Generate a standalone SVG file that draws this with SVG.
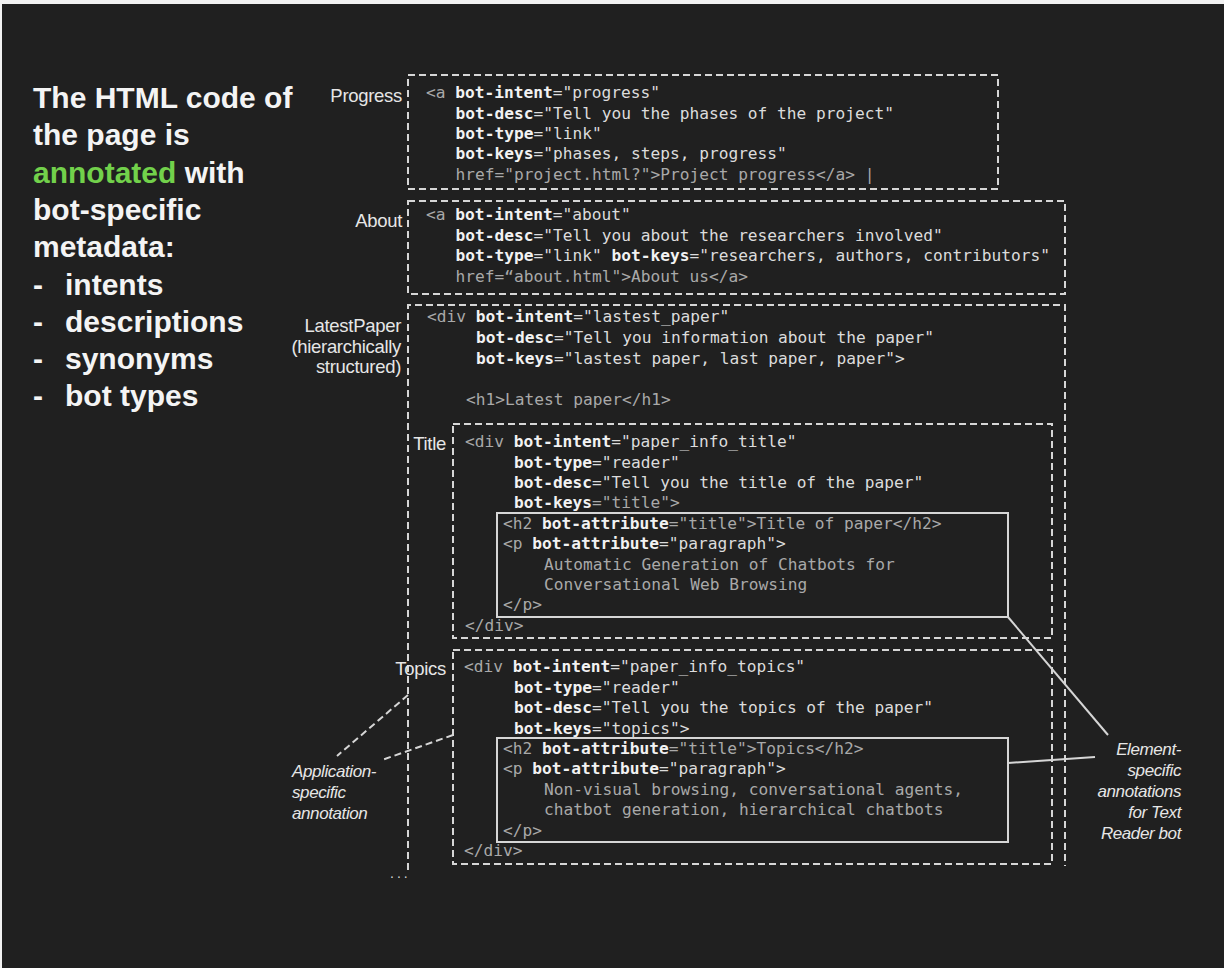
<svg xmlns="http://www.w3.org/2000/svg" width="1224" height="968" viewBox="0 0 1224 968">
<style>
.code{font-family:"DejaVu Sans Mono","Liberation Mono",monospace;font-size:16.2px;fill:#dcdcdc;white-space:pre}
.b{font-weight:bold;fill:#f2f2f2}
.g{fill:#a9a9a9}
.lbl{font-family:"Liberation Sans",Arial,sans-serif;font-size:18.5px;fill:#e6e6e6;letter-spacing:-0.3px;text-anchor:end}
.it{font-family:"Liberation Sans",Arial,sans-serif;font-size:17px;font-style:italic;fill:#e6e6e6;letter-spacing:-0.4px}
.head{font-family:"Liberation Sans",Arial,sans-serif;font-size:30px;font-weight:bold;fill:#f4f4f4;white-space:pre}
.dash{fill:none;stroke:#d6d6d6;stroke-width:2;stroke-dasharray:7 4}
.solid{fill:none;stroke:#d6d6d6;stroke-width:2}
</style>
<rect x="0" y="0" width="1224" height="968" fill="#f2f2f2"/>
<rect x="2" y="4" width="1222" height="964" fill="#202020"/>

<g id="intro">
<text class="head" x="33" y="108">The HTML code of</text>
<text class="head" x="33" y="145">the page is</text>
<text class="head" x="33" y="183"><tspan fill="#72d14b">annotated</tspan> with</text>
<text class="head" x="33" y="220">bot-specific</text>
<text class="head" x="33" y="257">metadata:</text>
<text class="head" x="33" y="295">-<tspan x="65">intents</tspan></text>
<text class="head" x="33" y="332">-<tspan x="65">descriptions</tspan></text>
<text class="head" x="33" y="369">-<tspan x="65">synonyms</tspan></text>
<text class="head" x="33" y="406">-<tspan x="65">bot types</tspan></text>
</g>

<g id="progress">
<rect class="dash" x="408" y="75" width="590" height="114"/>
<text class="lbl" x="402" y="102">Progress</text>
<text class="code" x="426" y="98"><tspan class="g">&lt;a </tspan><tspan class="b">bot-intent</tspan>="progress"</text>
<text class="code" x="455.5" y="118.5"><tspan class="b">bot-desc</tspan>="Tell you the phases of the project"</text>
<text class="code" x="455.5" y="139"><tspan class="b">bot-type</tspan>="link"</text>
<text class="code" x="455.5" y="159"><tspan class="b">bot-keys</tspan>="phases, steps, progress"</text>
<text class="code g" x="455.5" y="179.5">href="project.html?"&gt;Project progress&lt;/a&gt; |</text>
</g>

<g id="about">
<rect class="dash" x="408" y="201" width="657" height="93"/>
<text class="lbl" x="402" y="227">About</text>
<text class="code" x="426" y="220"><tspan class="g">&lt;a </tspan><tspan class="b">bot-intent</tspan>="about"</text>
<text class="code" x="455.5" y="240.5"><tspan class="b">bot-desc</tspan>="Tell you about the researchers involved"</text>
<text class="code" x="455.5" y="261"><tspan class="b">bot-type</tspan>="link" <tspan class="b">bot-keys</tspan>="researchers, authors, contributors"</text>
<text class="code g" x="455.5" y="281.5">href=“about.html"&gt;About us&lt;/a&gt;</text>
</g>

<g id="latestpaper">
<path class="dash" d="M408 870 V305 H1065 V866"/>
<text class="lbl" x="401" y="332">LatestPaper</text>
<text class="lbl" x="401" y="353">(hierarchically</text>
<text class="lbl" x="401" y="373">structured)</text>
<text class="code" x="427" y="322"><tspan class="g">&lt;div </tspan><tspan class="b">bot-intent</tspan>="lastest_paper"</text>
<text class="code" x="476" y="343"><tspan class="b">bot-desc</tspan>="Tell you information about the paper"</text>
<text class="code" x="476" y="364"><tspan class="b">bot-keys</tspan>="lastest paper, last paper, paper"&gt;</text>
<text class="code g" x="466" y="405">&lt;h1&gt;Latest paper&lt;/h1&gt;</text>
<text x="390" y="878" style="font-family:'Liberation Sans',Arial,sans-serif;font-size:14px;fill:#d6d6d6;letter-spacing:3px">...</text>
</g>

<g id="title">
<rect class="dash" x="453" y="424" width="599" height="214"/>
<text class="lbl" x="446" y="450">Title</text>
<text class="code" x="465" y="447"><tspan class="g">&lt;div </tspan><tspan class="b">bot-intent</tspan>="paper_info_title"</text>
<text class="code" x="514" y="467.5"><tspan class="b">bot-type</tspan>="reader"</text>
<text class="code" x="514" y="488"><tspan class="b">bot-desc</tspan>="Tell you the title of the paper"</text>
<text class="code" x="514" y="508"><tspan class="b">bot-keys</tspan><tspan class="g">="title"&gt;</tspan></text>
<rect class="solid" x="497" y="513" width="511" height="104"/>
<text class="code" x="503" y="528.5"><tspan class="g">&lt;h2 </tspan><tspan class="b">bot-attribute</tspan><tspan class="g">="title"&gt;Title of paper&lt;/h2&gt;</tspan></text>
<text class="code" x="503" y="549"><tspan class="g">&lt;p </tspan><tspan class="b">bot-attribute</tspan>="paragraph"&gt;</text>
<text class="code g" x="544" y="569.5">Automatic Generation of Chatbots for</text>
<text class="code g" x="544" y="590">Conversational Web Browsing</text>
<text class="code g" x="503" y="610">&lt;/p&gt;</text>
<text class="code g" x="465" y="630.5">&lt;/div&gt;</text>
</g>

<g id="topics">
<rect class="dash" x="453" y="650" width="599" height="214"/>
<text class="lbl" x="446" y="675">Topics</text>
<text class="code" x="464" y="672"><tspan class="g">&lt;div </tspan><tspan class="b">bot-intent</tspan>="paper_info_topics"</text>
<text class="code" x="514" y="693"><tspan class="b">bot-type</tspan>="reader"</text>
<text class="code" x="514" y="713"><tspan class="b">bot-desc</tspan>="Tell you the topics of the paper"</text>
<text class="code" x="514" y="733.5"><tspan class="b">bot-keys</tspan>="topics"&gt;</text>
<rect class="solid" x="497" y="738" width="511" height="104"/>
<text class="code" x="503" y="753.5"><tspan class="g">&lt;h2 </tspan><tspan class="b">bot-attribute</tspan><tspan class="g">="title"&gt;Topics&lt;/h2&gt;</tspan></text>
<text class="code" x="503" y="774"><tspan class="g">&lt;p </tspan><tspan class="b">bot-attribute</tspan>="paragraph"&gt;</text>
<text class="code g" x="544" y="794.5">Non-visual browsing, conversational agents,</text>
<text class="code g" x="544" y="815">chatbot generation, hierarchical chatbots</text>
<text class="code g" x="503" y="835.5">&lt;/p&gt;</text>
<text class="code g" x="464" y="856">&lt;/div&gt;</text>
</g>

<g id="app-annotation">
<text class="it" x="292" y="777">Application-</text>
<text class="it" x="292" y="798">specific</text>
<text class="it" x="292" y="819">annotation</text>
</g>

<g id="element-annotation">
<text class="it" x="1181" y="755" text-anchor="end">Element-</text>
<text class="it" x="1181" y="776" text-anchor="end">specific</text>
<text class="it" x="1181" y="797" text-anchor="end">annotations</text>
<text class="it" x="1181" y="818" text-anchor="end">for Text</text>
<text class="it" x="1181" y="839" text-anchor="end">Reader bot</text>
</g>

<g id="connectors">
<line class="dash" x1="408" y1="695" x2="337" y2="756"/>
<line class="dash" x1="453" y1="735" x2="382" y2="760"/>
<line class="solid" x1="1008" y1="617" x2="1108" y2="735"/>
<line class="solid" x1="1008" y1="763" x2="1095" y2="757"/>
</g>
</svg>
